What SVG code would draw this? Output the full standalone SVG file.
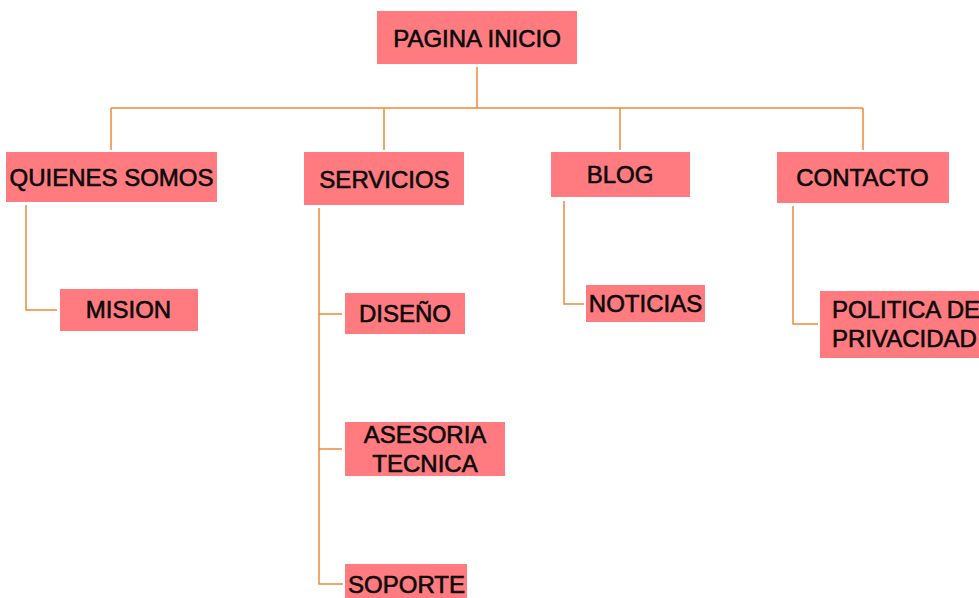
<svg xmlns="http://www.w3.org/2000/svg" width="979" height="598" viewBox="0 0 979 598">
<style>
.box{fill:#FF7B80;}
.t{font-family:"Liberation Sans",Arial,sans-serif;font-size:24px;fill:#0a0a0a;stroke:#0a0a0a;stroke-width:0.6;text-anchor:middle;}
.l{text-anchor:start;}
.c{fill:none;stroke:#F0883A;stroke-width:1.5;}
</style>
<rect width="979" height="598" fill="#fff"/>
<g id="connectors">
<path class="c" d="M477 67V108M111 108H863M111 108V150M384 108V150M620 108V150M863 108V150"/>
<path class="c" d="M26 205V310H57"/>
<path class="c" d="M319 208V584H343M319 314H342M319 449H342"/>
<path class="c" d="M564 201V304H584"/>
<path class="c" d="M793 206V324H818"/>
</g>
<g id="pagina-inicio"><rect class="box" x="377" y="11" width="200" height="53"/><text class="t" x="477" y="47">PAGINA INICIO</text></g>
<g id="quienes-somos"><rect class="box" x="6" y="152" width="211" height="50"/><text class="t" x="111.5" y="186">QUIENES SOMOS</text></g>
<g id="mision"><rect class="box" x="60" y="289" width="138" height="42"/><text class="t" x="128.5" y="318">MISION</text></g>
<g id="servicios"><rect class="box" x="304" y="152" width="160" height="53"/><text class="t" x="384.5" y="188">SERVICIOS</text></g>
<g id="diseno"><rect class="box" x="345" y="293" width="120" height="41"/><text class="t" x="405" y="322">DISEÑO</text></g>
<g id="asesoria"><rect class="box" x="345" y="422" width="160" height="54"/><text class="t" x="425" y="443">ASESORIA</text><text class="t" x="425" y="472">TECNICA</text></g>
<g id="soporte"><rect class="box" x="345" y="564" width="122" height="34"/><text class="t" x="406.5" y="593">SOPORTE</text></g>
<g id="blog"><rect class="box" x="551" y="152" width="139" height="45"/><text class="t" x="620" y="183">BLOG</text></g>
<g id="noticias"><rect class="box" x="586" y="285" width="119" height="37"/><text class="t" x="645.5" y="312">NOTICIAS</text></g>
<g id="contacto"><rect class="box" x="777" y="152" width="172" height="51"/><text class="t" x="862.5" y="186">CONTACTO</text></g>
<g id="politica"><rect class="box" x="820" y="291" width="165" height="67"/><text class="t l" x="832" y="318">POLITICA DE</text><text class="t l" x="832" y="347">PRIVACIDAD</text></g>
</svg>
